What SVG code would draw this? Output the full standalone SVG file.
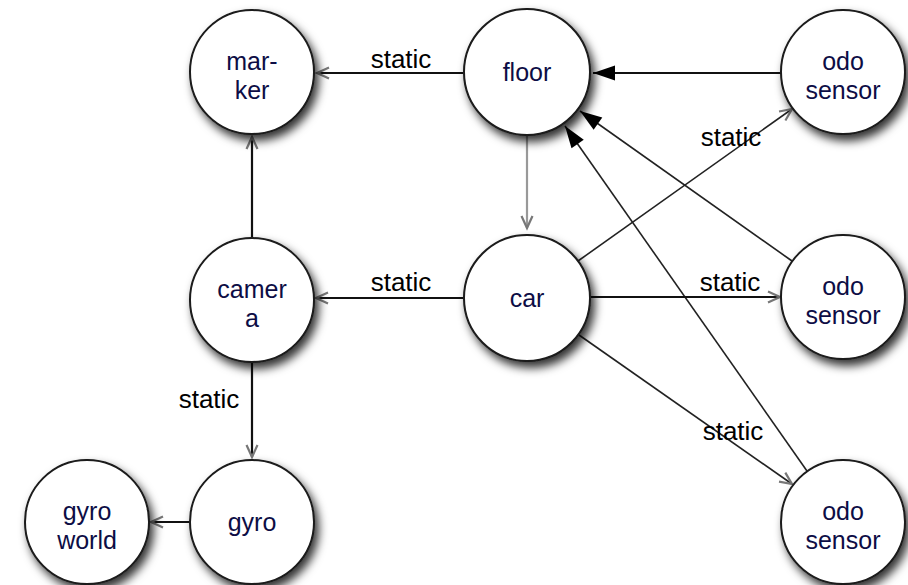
<svg xmlns="http://www.w3.org/2000/svg" width="908" height="585" viewBox="0 0 908 585">
<defs>
<filter id="sh" x="-30%" y="-30%" width="170%" height="170%">
<feDropShadow dx="4" dy="6" stdDeviation="5" flood-color="#000" flood-opacity="0.8"/>
</filter>
<marker id="open" markerUnits="userSpaceOnUse" markerWidth="16" markerHeight="14" refX="13" refY="6" orient="auto" overflow="visible">
<path d="M1,0.5 L13,6 L1,11.5" fill="none" stroke="#777" stroke-width="2.2"/>
</marker>
<marker id="fill" markerUnits="userSpaceOnUse" markerWidth="24" markerHeight="16" refX="22" refY="7.5" orient="auto" overflow="visible">
<path d="M0,0 L22,7.5 L0,15 Z" fill="#000"/>
</marker>
</defs>
<style>
.node circle{fill:#fff;stroke:#1a1a1a;stroke-width:2;filter:url(#sh)}
.node text{font-family:"Liberation Sans",Arial,sans-serif;font-size:25px;fill:#0d0d45;text-anchor:middle}
.e{fill:none;stroke:#111;stroke-width:2.2}
.d{fill:none;stroke:#222;stroke-width:1.6}
.lbl{font-family:"Liberation Sans",Arial,sans-serif;font-size:26px;fill:#000;text-anchor:middle}
</style>
<rect width="908" height="585" fill="#fff"/>
<g id="connectors">
<path class="e" d="M463,73 L317,73" marker-end="url(#open)"/>
<text class="lbl" x="401" y="68">static</text>
<path class="e" d="M781,73 L593,73" marker-end="url(#fill)"/>
<path class="d" d="M792,261 L580,111" marker-end="url(#fill)"/>
<path class="d" d="M807,471 L565,126" marker-end="url(#fill)"/>
<path class="e" d="M527,135 L527,228" style="stroke:#999" marker-end="url(#open)"/>
<path class="d" d="M578,261 L792,109" marker-end="url(#open)"/>
<text class="lbl" x="731" y="146">static</text>
<path class="e" d="M591,297 L780,297" marker-end="url(#open)"/>
<text class="lbl" x="730" y="291">static</text>
<path class="d" d="M579,335 L792,484" marker-end="url(#open)"/>
<text class="lbl" x="733" y="440">static</text>
<path class="e" d="M464,298 L316,298" marker-end="url(#open)"/>
<text class="lbl" x="401" y="291">static</text>
<path class="e" d="M252,238 L252,137" marker-end="url(#open)"/>
<path class="e" d="M252,362 L252,457" marker-end="url(#open)"/>
<text class="lbl" x="209" y="408">static</text>
<path class="e" d="M190,522 L151,522" marker-end="url(#open)"/>
</g>
<g id="marker" class="node"><circle cx="252" cy="72" r="62"/><text x="252" y="70">mar-</text><text x="252" y="99">ker</text></g>
<g id="floor" class="node"><circle cx="527" cy="72" r="63"/><text x="527" y="81">floor</text></g>
<g id="odo-sensor-1" class="node"><circle cx="843" cy="72" r="62"/><text x="843" y="70">odo</text><text x="843" y="99">sensor</text></g>
<g id="camera" class="node"><circle cx="252" cy="300" r="62"/><text x="252" y="298">camer</text><text x="252" y="327">a</text></g>
<g id="car" class="node"><circle cx="527" cy="298" r="63"/><text x="527" y="307">car</text></g>
<g id="odo-sensor-2" class="node"><circle cx="843" cy="297" r="62"/><text x="843" y="295">odo</text><text x="843" y="324">sensor</text></g>
<g id="gyro" class="node"><circle cx="252" cy="522" r="62"/><text x="252" y="531">gyro</text></g>
<g id="gyro-world" class="node"><circle cx="87" cy="522" r="62"/><text x="87" y="520">gyro</text><text x="87" y="549">world</text></g>
<g id="odo-sensor-3" class="node"><circle cx="843" cy="522" r="62"/><text x="843" y="520">odo</text><text x="843" y="549">sensor</text></g>
</svg>
